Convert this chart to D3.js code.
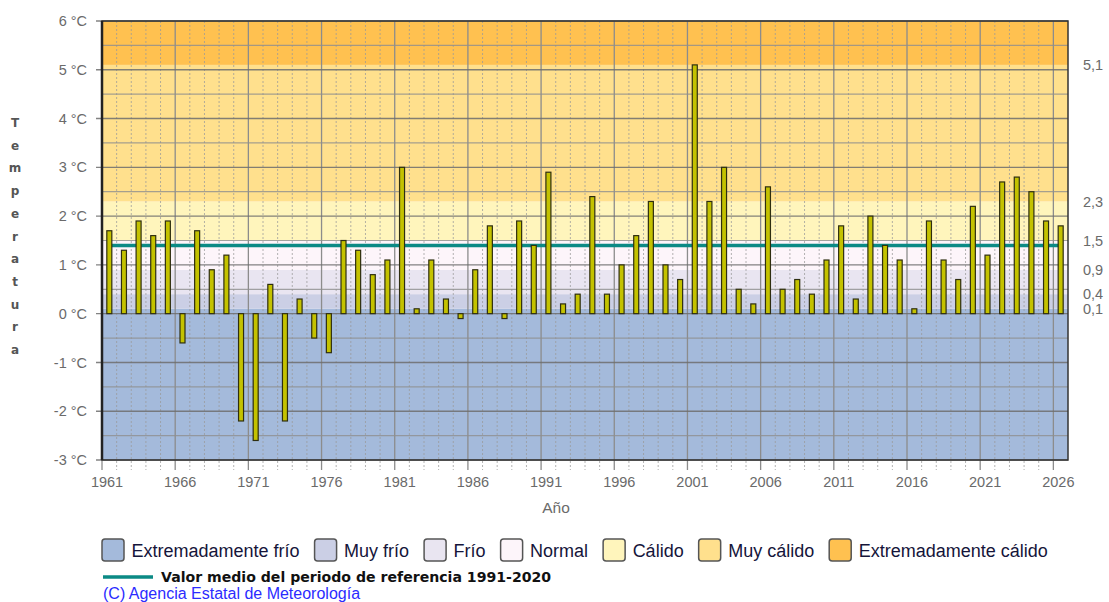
<!DOCTYPE html>
<html>
<head>
<meta charset="utf-8">
<script src="https://cdn.jsdelivr.net/npm/d3@7"></script>
<style>
  body { margin: 0; background: #fff; }
  svg { display: block; font-family: "Liberation Sans", Arial, sans-serif; }
</style>
</head>
<body>
<svg width="1109" height="602"></svg>
<script>
// anomalias anuales de temperatura
const years = d3.range(1961, 2027);
const values = [
  1.7, 1.3, 1.9, 1.6, 1.9, -0.6, 1.7, 0.9, 1.2, -2.2,
  -2.6, 0.6, -2.2, 0.3, -0.5, -0.8, 1.5, 1.3, 0.8, 1.1,
  3.0, 0.1, 1.1, 0.3, -0.1, 0.9, 1.8, -0.1, 1.9, 1.4,
  2.9, 0.2, 0.4, 2.4, 0.4, 1.0, 1.6, 2.3, 1.0, 0.7,
  5.1, 2.3, 3.0, 0.5, 0.2, 2.6, 0.5, 0.7, 0.4, 1.1,
  1.8, 0.3, 2.0, 1.4, 1.1, 0.1, 1.9, 1.1, 0.7, 2.2,
  1.2, 2.7, 2.8, 2.5, 1.9, 1.8
];
const referenceMean = 1.4;

// umbrales de las clases (limites entre bandas)
const thresholds = [0.1, 0.4, 0.9, 1.5, 2.3, 5.1];
const thresholdLabels = ['0,1', '0,4', '0,9', '1,5', '2,3', '5,1'];
const classNames = ['Extremadamente frío', 'Muy frío', 'Frío', 'Normal', 'Cálido', 'Muy cálido', 'Extremadamente cálido'];
const classColors = ['#a4badb', '#cbcfe5', '#e9e5f1', '#fdf5fa', '#fff5bc', '#ffe08d', '#ffc150'];
const yTicks = [-3, -2, -1, 0, 1, 2, 3, 4, 5, 6];
const xTickYears = d3.range(1961, 2027, 5);

const margin = {top: 21, right: 41, left: 102, bottom: 142};
const innerwidth = 1109 - margin.left - margin.right;
const innerheight = 602 - margin.top - margin.bottom;

const svg = d3.select('svg');
const g = svg.append('g')
  .attr('transform', `translate(${margin.left},${margin.top})`);

const xscale = d3.scaleLinear()
  .domain([1960.5, 2026.5])
  .range([0, innerwidth]);

const yscale = d3.scaleLinear()
  .domain([-3, 6])
  .range([innerheight, 0]);

// bandas de clase
const bounds = [-3, ...thresholds, 6];
g.selectAll('.band')
  .data(classColors)
  .enter().append('rect')
  .attr('class', 'band')
  .attr('x', 0)
  .attr('width', innerwidth)
  .attr('y', (d, i) => yscale(bounds[i + 1]))
  .attr('height', (d, i) => yscale(bounds[i]) - yscale(bounds[i + 1]))
  .attr('fill', d => d);

// rejilla vertical
g.selectAll('.vminor')
  .data(d3.range(1961, 2027))
  .enter().append('line')
  .attr('x1', d => xscale(d - 0.5)).attr('x2', d => xscale(d - 0.5))
  .attr('y1', 0).attr('y2', innerheight + 10)
  .attr('stroke', '#9a9a9a')
  .attr('stroke-width', 1)
  .attr('stroke-dasharray', '2,2')
  .attr('opacity', d => (d - 1961) % 5 === 0 ? 0 : 0.75);

g.selectAll('.vmajor')
  .data(xTickYears)
  .enter().append('line')
  .attr('x1', d => xscale(d - 0.5)).attr('x2', d => xscale(d - 0.5))
  .attr('y1', 0).attr('y2', innerheight + 10)
  .attr('stroke', '#8c8c8c')
  .attr('stroke-width', 1.3);

// rejilla horizontal
g.selectAll('.hminor')
  .data(d3.range(-2.5, 6, 1))
  .enter().append('line')
  .attr('x1', 0).attr('x2', innerwidth)
  .attr('y1', d => yscale(d)).attr('y2', d => yscale(d))
  .attr('stroke', '#8f8f8f')
  .attr('stroke-width', 1.2)
  .attr('opacity', 0.8);

g.selectAll('.hmajor')
  .data(yTicks)
  .enter().append('line')
  .attr('x1', -6).attr('x2', innerwidth)
  .attr('y1', d => yscale(d)).attr('y2', d => yscale(d))
  .attr('stroke', '#6e6e6e')
  .attr('stroke-width', 1.4)
  .attr('opacity', 0.85);

// linea de valor medio de referencia
g.append('line')
  .attr('x1', xscale(1961)).attr('x2', xscale(2026))
  .attr('y1', yscale(referenceMean)).attr('y2', yscale(referenceMean))
  .attr('stroke', '#0b8a85')
  .attr('stroke-width', 3.5);

// barras
g.selectAll('.bar')
  .data(values)
  .enter().append('rect')
  .attr('class', 'bar')
  .attr('x', (d, i) => xscale(years[i]) - 2.5)
  .attr('width', 5)
  .attr('y', d => yscale(Math.max(0, d)))
  .attr('height', d => Math.max(1.5, Math.abs(yscale(d) - yscale(0))))
  .attr('fill', '#c4c200')
  .attr('stroke', '#2e2e10')
  .attr('stroke-width', 1.2);

// marco
g.append('rect')
  .attr('x', 0).attr('y', 0)
  .attr('width', innerwidth).attr('height', innerheight)
  .attr('fill', 'none')
  .attr('stroke', '#333')
  .attr('stroke-width', 1.5);
g.append('line')
  .attr('x1', 0).attr('x2', 0).attr('y1', 0).attr('y2', innerheight)
  .attr('stroke', '#222').attr('stroke-width', 2.5);

// etiquetas eje y
g.selectAll('.ylab')
  .data(yTicks)
  .enter().append('text')
  .attr('x', -15)
  .attr('y', d => yscale(d))
  .attr('dy', '0.35em')
  .attr('text-anchor', 'end')
  .attr('font-size', 14.5)
  .attr('fill', '#6a6a6a')
  .text(d => `${d} °C`);

// etiquetas de umbrales a la derecha
g.selectAll('.rlab')
  .data(thresholds)
  .enter().append('text')
  .attr('x', innerwidth + 15)
  .attr('y', d => yscale(d))
  .attr('dy', '0.35em')
  .attr('font-size', 14.5)
  .attr('fill', '#6a6a6a')
  .text((d, i) => thresholdLabels[i]);

// eje x
const xAxisG = g.append('g')
  .attr('transform', `translate(0,${innerheight})`);
xAxisG.selectAll('text')
  .data(xTickYears)
  .enter().append('text')
  .attr('x', d => xscale(d - 0.5) + 5)
  .attr('y', 27)
  .attr('text-anchor', 'middle')
  .attr('font-size', 14.5)
  .attr('fill', '#6a6a6a')
  .text(d => d);

svg.append('text')
  .attr('x', 556)
  .attr('y', 513)
  .attr('text-anchor', 'middle')
  .attr('font-size', 15.5)
  .attr('fill', '#6a6a6a')
  .text('Año');

// titulo eje y en vertical, letra a letra
const ylabel = 'Temperatura'.split('');
svg.selectAll('.ytitle')
  .data(ylabel)
  .enter().append('text')
  .attr('x', 15)
  .attr('y', (d, i) => 127 + i * 22.7)
  .attr('text-anchor', 'middle')
  .attr('font-family', '"DejaVu Sans", Verdana, sans-serif')
  .attr('font-weight', 'bold')
  .attr('font-size', 12)
  .attr('fill', '#555')
  .text(d => d);

// leyenda
const legend = svg.append('g');
let lx = 102;
classNames.forEach((name, i) => {
  legend.append('rect')
    .attr('x', lx).attr('y', 539)
    .attr('width', 22).attr('height', 22)
    .attr('rx', 3)
    .attr('fill', classColors[i])
    .attr('stroke', '#555')
    .attr('stroke-width', 1.5);
  const t = legend.append('text')
    .attr('x', lx + 29.5)
    .attr('y', 557)
    .attr('font-size', 18)
    .attr('fill', '#15153a')
    .text(name);
  lx = lx + 29.5 + t.node().getComputedTextLength() + 15;
});

legend.append('line')
  .attr('x1', 103).attr('x2', 153)
  .attr('y1', 577).attr('y2', 577)
  .attr('stroke', '#0b8a85')
  .attr('stroke-width', 3.5);
legend.append('text')
  .attr('x', 161)
  .attr('y', 582)
  .attr('font-family', '"DejaVu Sans", Verdana, sans-serif')
  .attr('font-weight', 'bold')
  .attr('font-size', 14.1)
  .attr('fill', '#111')
  .text('Valor medio del periodo de referencia 1991-2020');

svg.append('text')
  .attr('x', 103)
  .attr('y', 599)
  .attr('font-size', 16)
  .attr('fill', '#2b2bff')
  .text('(C) Agencia Estatal de Meteorología');
</script>
</body>
</html>
